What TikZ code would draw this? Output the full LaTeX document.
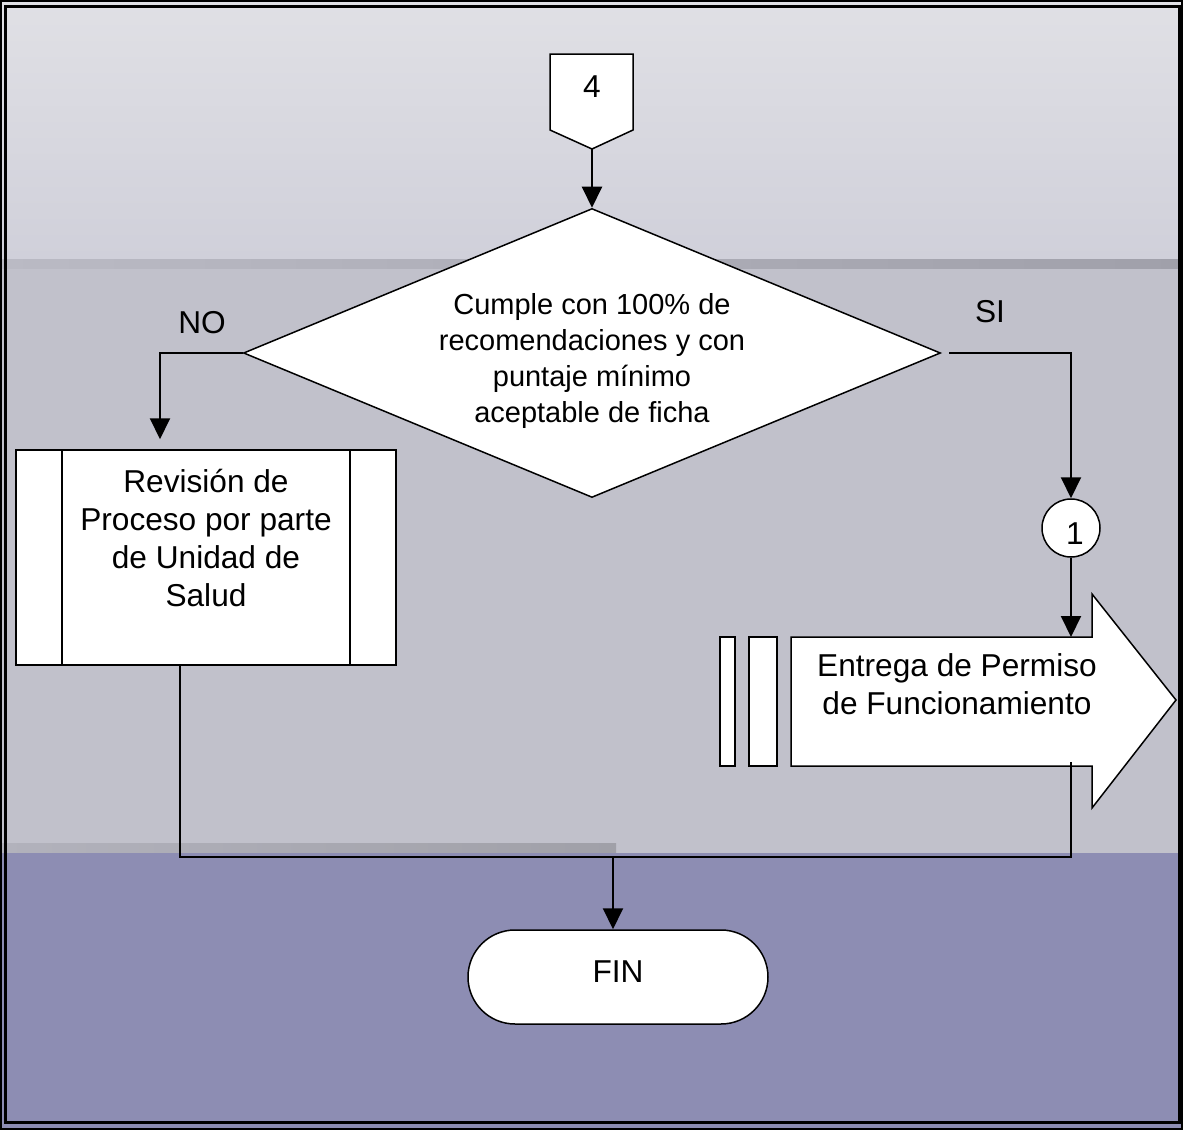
\documentclass[tikz,border=0pt]{standalone}
\usepackage{fontspec}
\setmainfont{Liberation Sans}
\usetikzlibrary{arrows.meta,shapes.geometric}
\definecolor{bandtop}{RGB}{224,224,229}
\definecolor{bandtopb}{RGB}{208,208,218}
\definecolor{stripea}{RGB}{186,186,196}
\definecolor{stripeb}{RGB}{160,160,170}
\definecolor{bandmid}{RGB}{193,193,203}
\definecolor{stripec}{RGB}{178,178,188}
\definecolor{striped}{RGB}{160,160,168}
\definecolor{bandlow}{RGB}{141,141,179}
\tikzset{
  shape line/.style={draw=black, line width=0.3mm, fill=white},
  conn/.style={draw=black, line width=0.4mm},
  flow/.style={conn, -{Triangle[width=4mm,length=4.2mm]}},
  decision/.style={shape line, diamond, aspect=2.4, inner sep=0pt,
    minimum width=139.4mm, minimum height=57.8mm},
  procbox/.style={shape line, rectangle, minimum width=76mm, minimum height=43mm},
  endbox/.style={shape line, rectangle, rounded corners=9.4mm,
    minimum width=60mm, minimum height=18.8mm},
  onpage/.style={shape line, circle, inner sep=0pt, minimum size=11.6mm},
  txt/.style={align=center, inner sep=0pt},
}
\begin{document}
\begin{tikzpicture}[x=0.2mm, y=-0.2mm, font=\fontsize{18}{21.5}\selectfont]
			%%%%% BACKGROUND %%%%%
			\useasboundingbox (0,0) rectangle (1183,1130);
			\fill[top color=bandtop, bottom color=bandtopb] (0,0) rectangle (1183,259);
			\fill[left color=stripea, right color=stripeb] (0,259) rectangle (1183,269);
			\fill[bandmid] (0,269) rectangle (1183,853);
			\fill[left color=stripec, right color=striped] (0,843) rectangle (616,853);
			\fill[bandlow] (0,853) rectangle (1183,1130);
			\draw[line width=0.35mm] (0.8,0.8) rectangle (1182.2,1129.2);
			\draw[line width=0.6mm] (5.5,6.5) rectangle (1179,1122.5);
			
			%%%%% SHAPES %%%%%
			\draw[shape line] (550,54) -- (633,54) -- (633,130) -- (592,149) -- (550,130) -- cycle;
			\coordinate (c4tip) at (592,149);
			\node[txt] (c4) at (592,87) {4};
			
			\node[decision] (dec) at (592,353) {};
			\node[txt, font=\fontsize{16.5}{20.4}\selectfont] (dectxt) at (592,361) {Cumple con 100\% de\\recomendaciones y con\\puntaje mínimo\\aceptable de ficha};
			\node[txt] (no) at (202,323) {NO};
			\node[txt] (si) at (990,312) {SI};
			
			\node[procbox] (rev) at (206,557.5) {};
			\draw[shape line] (62,450) -- (62,665);
			\draw[shape line] (350,450) -- (350,665);
			\node[txt] (revtxt) at (206,538) {Revisión de\\Proceso por parte\\de Unidad de\\Salud};
			
			\node[onpage] (c1) at (1071,528) {};
			\node[txt] (c1txt) at (1075,534) {1};
			
			\draw[shape line] (720,637) rectangle (735,766);
			\draw[shape line] (749,637) rectangle (777,766);
			\draw[shape line] (791,637) -- (1092,637) -- (1092,594) -- (1176,700) -- (1092,808) -- (1092,766) -- (791,766) -- cycle;
			\coordinate (enttop) at (1071,637);
			\coordinate (entbot) at (1071,762);
			\node[txt] (ent) at (957,684) {Entrega de Permiso\\de Funcionamiento};
			
			\node[endbox] (fin) at (618,977) {};
			\node[txt] (fintxt) at (618,972) {FIN};
			\coordinate (join) at (613,857);
			
			%%%%% CONNECTORS %%%%%
			\draw[flow] (c4tip) -- (dec.north);
			\draw[flow, shorten >=2mm] (dec.west) -| ([xshift=-9.2mm]rev.north);
			\draw[flow] ([xshift=1.6mm]dec.east) -| (c1.north);
			\draw[flow] (c1.south) -- (enttop);
			\draw[conn] ([xshift=-5.2mm]rev.south) |- (join) -| (entbot);
			\draw[flow] (join) -- (join |- fin.north);
		\end{tikzpicture}
\end{document}
